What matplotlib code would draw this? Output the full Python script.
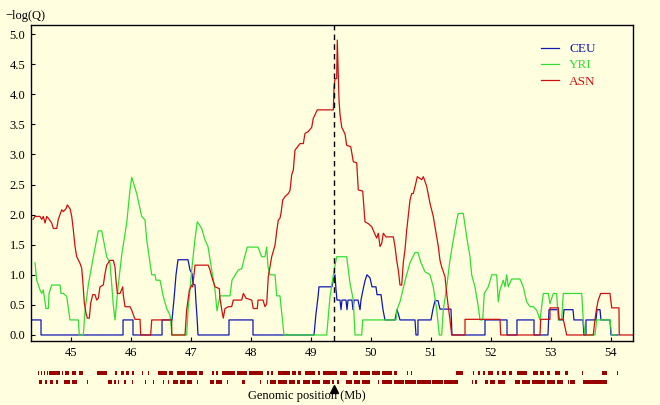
import matplotlib
matplotlib.use("Agg")
import matplotlib.pyplot as plt

# --- data (positions in Mb, values are -log(Q)) ---
ceu_pos = [44.333, 44.5, 44.5, 45.867, 45.867, 46.033, 46.033, 46.517, 46.517, 46.683, 46.717, 46.75,
           46.783, 46.95, 46.983, 47.017, 47.033, 47.067, 47.083, 47.1, 47.117, 47.633, 47.633, 48.033,
           48.033, 49.05, 49.083, 49.117, 49.133, 49.35, 49.367, 49.4, 49.417, 49.433, 49.483, 49.5,
           49.517, 49.583, 49.6, 49.617, 49.683, 49.7, 49.717, 49.783, 49.817, 49.833, 49.867, 49.9,
           49.933, 49.983, 50.017, 50.083, 50.1, 50.167, 50.183, 50.2, 50.233, 50.4, 50.433, 50.45,
           50.483, 50.733, 50.75, 50.783, 50.783, 51.0, 51.033, 51.067, 51.117, 51.15, 51.333, 51.35,
           51.9, 51.9, 52.267, 52.267, 52.433, 52.433, 52.717, 52.717, 52.95, 52.967, 53.117, 53.133,
           53.2, 53.217, 53.367, 53.383, 53.533, 53.55, 53.583, 53.583, 53.75, 53.767, 53.817, 53.833,
           53.983, 54.0, 54.117]
ceu_val = [0.25, 0.25, 0, 0, 0.25, 0.25, 0, 0, 0.25, 0.25, 0.6, 1.0,
           1.25, 1.25, 1.08, 1.02, 0.85, 0.83, 0.54, 0.3, 0, 0, 0.25, 0.25,
           0, 0, 0.35, 0.63, 0.8, 0.8, 0.9, 1.0, 0.75, 0.58, 0.58, 0.42,
           0.58, 0.58, 0.42, 0.58, 0.58, 0.42, 0.58, 0.58, 0.42, 0.58, 0.75, 0.9,
           1.0, 0.95, 0.8, 0.8, 0.67, 0.67, 0.55, 0.42, 0.25, 0.25, 0.42, 0.37,
           0.25, 0.25, 0, 0, 0.25, 0.25, 0.43, 0.57, 0.57, 0.43, 0.43, 0,
           0, 0.25, 0.25, 0, 0, 0.25, 0.25, 0, 0, 0.42, 0.42, 0.25,
           0.25, 0.42, 0.42, 0.25, 0.25, 0, 0, 0.25, 0.25, 0.42, 0.42, 0.25,
           0.25, 0, 0]

yri_pos = [44.4, 44.428, 44.483, 44.512, 44.538, 44.583, 44.622, 44.633, 44.678, 44.817, 44.833, 44.872,
           44.928, 44.983, 45.122, 45.138, 45.205, 45.233, 45.288, 45.372, 45.455, 45.512, 45.595, 45.65,
           45.705, 45.733, 45.788, 45.845, 45.928, 45.983, 46.012, 46.095, 46.178, 46.233, 46.262, 46.317,
           46.345, 46.4, 46.417, 46.483, 46.538, 46.595, 46.65, 46.683, 46.928, 46.95, 47.012, 47.067,
           47.105, 47.178, 47.233, 47.283, 47.345, 47.4, 47.433, 47.483, 47.65, 47.683, 47.788, 47.845,
           47.9, 47.938, 48.117, 48.178, 48.233, 48.262, 48.283, 48.317, 48.4, 48.428, 48.483, 48.55,
           49.262, 49.317, 49.372, 49.428, 49.595, 49.65, 49.705, 49.733, 49.845, 49.862, 50.233, 50.417,
           50.433, 50.483, 50.567, 50.65, 50.733, 50.783, 50.833, 50.9, 50.983, 51.038, 51.095, 51.138,
           51.178, 51.205, 51.262, 51.317, 51.372, 51.428, 51.455, 51.538, 51.595, 51.65, 51.678, 51.733,
           51.788, 51.817, 51.862, 51.888, 51.955, 52.012, 52.095, 52.122, 52.15, 52.205, 52.233, 52.262,
           52.288, 52.345, 52.483, 52.538, 52.595, 52.65, 52.705, 52.762, 52.817, 52.872, 52.955, 52.983,
           53.038, 53.095, 53.122, 53.178, 53.205, 53.512, 53.538, 53.567, 53.733, 53.762, 53.983, 54.012,
           54.083]
yri_val = [1.2, 0.91, 0.75, 0.69, 0.75, 0.44, 0.44, 0.69, 0.83, 0.83, 0.69, 0.69,
           0.64, 0.25, 0.25, 0, 0, 0.4, 0.83, 1.3, 1.73, 1.73, 1.3, 1.2,
           0.5, 0.25, 0.83, 1.33, 1.86, 2.41, 2.62, 2.35, 1.97, 1.91, 1.58, 1.19,
           1.0, 1.0, 0.91, 0.91, 0.64, 0.44, 0.33, 0, 0, 0.4, 1.08, 1.6,
           1.88, 1.77, 1.58, 1.47, 1.08, 0.75, 0.4, 0.65, 0.65, 0.91, 1.08, 1.1,
           1.32, 1.46, 1.46, 1.3, 1.3, 1.46, 1.13, 1.0, 1.0, 0.65, 0.65, 0,
           0, 0.64, 1.0, 1.3, 1.3, 0.86, 0.58, 0, 0, 0.25, 0.25, 0.25,
           0.42, 0.55, 0.9, 1.2, 1.37, 1.37, 1.2, 1.05, 1.0, 0.8, 0.42, 0,
           0, 0.42, 0.8, 1.25, 1.58, 1.9, 2.02, 2.02, 1.63, 1.3, 1.0, 0.8,
           0.47, 0.25, 0.25, 0.69, 0.8, 1.0, 1.0, 0.55, 0.75, 0.91, 0.8, 1.0,
           0.8, 0.93, 0.93, 0.8, 0.55, 0.47, 0.47, 0.41, 0.25, 0.69, 0.69, 0.52,
           0.69, 0.69, 0.25, 0.25, 0.69, 0.69, 0.25, 0, 0, 0.25, 0.25, 0,
           0]

asn_pos = [44.367, 44.4, 44.483, 44.512, 44.538, 44.567, 44.595, 44.622, 44.678, 44.705, 44.762, 44.788,
           44.845, 44.872, 44.917, 44.938, 44.983, 45.012, 45.038, 45.067, 45.095, 45.15, 45.178, 45.195,
           45.222, 45.25, 45.272, 45.305, 45.328, 45.362, 45.4, 45.428, 45.455, 45.483, 45.538, 45.567,
           45.595, 45.65, 45.705, 45.733, 45.75, 45.772, 45.817, 45.862, 45.872, 45.9, 45.983, 46.012,
           46.067, 46.15, 46.162, 46.328, 46.345, 46.678, 46.678, 46.9, 46.928, 46.972, 47.012, 47.028,
           47.067, 47.288, 47.317, 47.345, 47.4, 47.472, 47.483, 47.512, 47.538, 47.567, 47.622, 47.678,
           47.705, 47.845, 47.872, 47.917, 48.012, 48.038, 48.105, 48.117, 48.2, 48.233, 48.262, 48.288,
           48.317, 48.345, 48.4, 48.428, 48.455, 48.483, 48.5, 48.528, 48.567, 48.622, 48.65, 48.678,
           48.705, 48.733, 48.817, 48.872, 48.9, 48.955, 49.012, 49.038, 49.105, 49.372, 49.383, 49.4,
           49.428, 49.438, 49.455, 49.467, 49.483, 49.512, 49.567, 49.595, 49.662, 49.705, 49.762, 49.788,
           49.862, 49.9, 49.955, 50.012, 50.05, 50.095, 50.122, 50.15, 50.178, 50.205, 50.25, 50.372,
           50.4, 50.428, 50.455, 50.483, 50.512, 50.538, 50.567, 50.595, 50.65, 50.678, 50.705, 50.733,
           50.772, 50.845, 50.872, 50.928, 50.983, 51.038, 51.095, 51.122, 51.15, 51.178, 51.205, 51.233,
           51.262, 51.288, 51.317, 51.345, 51.567, 51.567, 52.15, 52.162, 52.817, 52.828, 52.983, 52.983,
           53.122, 53.133, 53.205, 53.262, 53.705, 53.733, 53.762, 53.788, 53.828, 53.983, 54.012, 54.133,
           54.138, 54.367]
asn_val = [1.92, 1.97, 1.97, 1.92, 1.97, 1.86, 1.97, 1.94, 1.86, 1.77, 1.77, 1.92,
           2.08, 2.05, 2.1, 2.16, 2.1, 1.97, 1.75, 1.47, 1.3, 1.19, 1.11, 0.91,
           0.53, 0.36, 0.28, 0.28, 0.53, 0.67, 0.67, 0.58, 0.61, 0.8, 0.83, 1.02,
           1.16, 1.24, 1.24, 1.13, 0.91, 0.69, 0.69, 0.8, 0.66, 0.47, 0.47, 0.41,
           0.26, 0.26, 0, 0, 0.25, 0.25, 0, 0, 0.42, 0.74, 0.83, 0.8,
           1.16, 1.16, 1.08, 0.97, 0.8, 0.77, 0.61, 0.42, 0.28, 0.44, 0.47, 0.47,
           0.58, 0.58, 0.69, 0.61, 0.58, 0.44, 0.44, 0.58, 0.58, 0.47, 0.52, 0.97,
           1.14, 1.3, 1.49, 1.72, 1.91, 1.94, 2.02, 2.24, 2.3, 2.35, 2.4, 2.66,
           2.74, 3.07, 3.18, 3.18, 3.35, 3.38, 3.45, 3.6, 3.74, 3.74, 4.1, 4.26,
           4.26, 4.9, 4.3, 3.9, 3.67, 3.45, 3.34, 3.15, 3.13, 2.88, 2.86, 2.41,
           2.39, 1.88, 1.85, 1.8, 1.71, 1.61, 1.69, 1.47, 1.52, 1.69, 1.63, 1.63,
           1.47, 1.24, 1.08, 0.83, 0.83, 1.2, 1.42, 1.74, 2.24, 2.35, 2.35, 2.46,
           2.63, 2.58, 2.63, 2.47, 2.19, 1.97, 1.63, 1.47, 1.24, 1.13, 1.05, 0.97,
           0.69, 0.47, 0.25, 0, 0, 0.26, 0.26, 0, 0, 0.26, 0.26, 0.45,
           0.45, 0.26, 0.26, 0, 0, 0.26, 0.45, 0.58, 0.69, 0.69, 0.45, 0.45,
           0, 0]

# SNP coverage tracks below the plot (start, end) in Mb
snp_row1 = [(44.45, 44.47), (44.50, 44.52), (44.55, 44.57), (44.60, 44.62), (44.63, 44.82), (44.85, 44.87),
            (44.90, 44.97), (45.02, 45.08), (45.13, 45.20), (45.43, 45.60), (45.73, 45.77), (45.83, 45.88),
            (45.92, 45.97), (46.02, 46.05), (46.18, 46.20), (46.28, 46.30), (46.45, 46.60), (46.63, 46.70),
            (46.77, 46.90), (46.93, 47.10), (47.13, 47.20), (47.35, 47.38), (47.42, 47.45), (47.52, 47.73),
            (47.77, 47.93), (47.97, 48.20), (48.27, 48.30), (48.33, 48.37), (48.45, 48.65), (48.68, 48.75),
            (48.78, 48.83), (48.90, 49.07), (49.12, 49.15), (49.20, 49.43), (49.48, 49.60), (49.70, 49.78),
            (49.82, 49.98), (50.02, 50.15), (50.18, 50.35), (50.38, 50.43), (50.60, 50.62), (50.67, 50.68),
            (51.42, 51.53), (51.70, 51.72), (51.78, 51.82), (51.87, 51.90), (51.95, 52.03), (52.10, 52.13),
            (52.18, 52.25), (52.30, 52.35), (52.43, 52.60), (52.70, 52.78), (52.82, 52.88), (52.93, 52.98),
            (53.07, 53.15), (53.23, 53.28), (53.52, 53.53), (53.85, 53.93), (54.10, 54.12)]
snp_row2 = [(44.47, 44.52), (44.57, 44.60), (44.65, 44.70), (44.75, 44.78), (44.88, 44.98), (45.02, 45.10),
            (45.27, 45.28), (45.62, 45.68), (45.72, 45.75), (45.78, 45.80), (45.88, 45.92), (46.02, 46.03),
            (46.23, 46.25), (46.37, 46.38), (46.53, 46.55), (46.62, 46.63), (46.70, 46.78), (46.82, 46.90),
            (46.93, 47.02), (47.10, 47.12), (47.32, 47.38), (47.42, 47.52), (47.60, 47.62), (47.85, 47.90),
            (48.15, 48.17), (48.27, 48.28), (48.32, 48.42), (48.45, 48.60), (48.63, 48.73), (48.77, 48.82),
            (48.87, 48.98), (49.02, 49.15), (49.20, 49.32), (49.35, 49.38), (49.43, 49.47), (49.58, 49.68),
            (49.72, 49.82), (49.85, 49.98), (50.12, 50.13), (50.18, 50.35), (50.38, 50.55), (50.57, 50.75),
            (50.77, 51.00), (51.02, 51.20), (51.22, 51.45), (51.68, 51.70), (51.73, 51.77), (51.90, 51.95),
            (51.98, 52.07), (52.12, 52.23), (52.40, 52.48), (52.52, 52.65), (52.68, 52.90), (52.93, 53.07),
            (53.10, 53.20), (53.28, 53.30), (53.32, 53.40), (53.53, 53.93)]

peak_pos = 49.38
xticks = [45, 46, 47, 48, 49, 50, 51, 52, 53, 54]
yticks = [0.0, 0.5, 1.0, 1.5, 2.0, 2.5, 3.0, 3.5, 4.0, 4.5, 5.0]

BG = "#ffffe0"
C_CEU, C_YRI, C_ASN = "#1018b0", "#33dd33", "#cc1111"
SNP_C = "#990000"

plt.rcParams["font.family"] = ["Liberation Serif", "DejaVu Serif"]
plt.rcParams["font.size"] = 9

fig = plt.figure(figsize=(6.6, 4.05), dpi=100, facecolor=BG)
ax = fig.add_axes([31 / 660, 64 / 405, 602 / 660, 316 / 405], facecolor=BG)

ax.plot(ceu_pos, ceu_val, color=C_CEU, lw=0.9, label="CEU")
ax.plot(yri_pos, yri_val, color=C_YRI, lw=0.9, label="YRI")
ax.plot(asn_pos, asn_val, color=C_ASN, lw=0.9, label="ASN")
ax.axvline(peak_pos, color="black", lw=1.0, ls=(0, (4, 3)))

ax.set_xlim(44.333, 54.367)
ax.set_ylim(-0.1, 5.15)
ax.set_xticks(xticks)
ax.set_yticks(yticks)
ax.set_xticklabels([str(t) for t in xticks])
ax.set_yticklabels([f"{t:.1f}" for t in yticks])
ax.tick_params(direction="in", length=3, width=0.8, pad=4)
for sp in ax.spines.values():
    sp.set_linewidth(1.0)

leg = ax.legend(loc="upper left", bbox_to_anchor=(0.838, 0.96), frameon=False,
                handlelength=1.4, handletextpad=0.75, labelspacing=0.3, labelcolor="linecolor",
                borderaxespad=0, fontsize=9.5)

fig.text(5 / 660, 1 - 16 / 405, "\u2212log(Q)", ha="left", va="center", fontsize=9)

# SNP tracks
tr = fig.add_axes([31 / 660, 15 / 405, 602 / 660, 25 / 405], sharex=ax)
tr.set_facecolor("none")
tr.set_ylim(0, 25)
tr.broken_barh([(s, e - s) for s, e in snp_row1], (15, 4), facecolors=SNP_C)
tr.broken_barh([(s, e - s) for s, e in snp_row2], (6, 4), facecolors=SNP_C)
tr.plot([peak_pos], [1.5], marker="^", color="black", ms=6, clip_on=False)
tr.axis("off")

fig.text(307 / 660, 1 - 396 / 405, "Genomic position (Mb)", ha="center", va="center", fontsize=9)

fig.savefig("out.png", dpi=100, facecolor=BG)
